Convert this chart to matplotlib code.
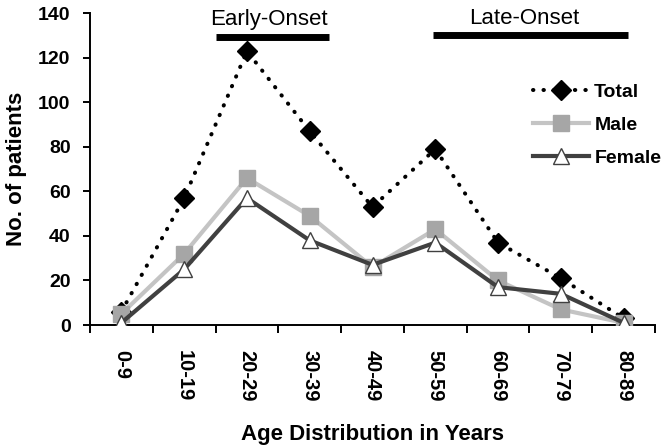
import matplotlib
matplotlib.use("Agg")
import matplotlib.pyplot as plt
import numpy as np

categories = ["0-9", "10-19", "20-29", "30-39", "40-49", "50-59", "60-69", "70-79", "80-89"]
total = [6, 57, 123, 87, 53, 79, 37, 21, 3]
male = [5, 32, 66, 49, 26, 43, 20, 7, 1]
female = [1, 25, 57, 38, 27, 37, 17, 14, 1]

plt.rcParams['font.family'] = ['Liberation Sans', 'DejaVu Sans']

W, H = 669, 447
fig = plt.figure(figsize=(W / 100, H / 100), dpi=100)
ax = fig.add_axes([90 / W, 1 - 325 / H, (655 - 90) / W, (325 - 13.3) / H])

x = np.arange(len(categories))
ax.plot(x, total, color='black', linestyle=(0, (0.1, 2.5)), dash_capstyle='round', lw=2.9,
        marker='D', markersize=10, markerfacecolor='black', markeredgecolor='black',
        label='Total', zorder=3)
ax.plot(x, male, color='#c4c4c4', lw=3, marker='s', markersize=11,
        markerfacecolor='#a6a6a6', markeredgecolor='#a6a6a6', label='Male', zorder=4)
ax.plot(x, female, color='#404040', lw=3, marker='^', markersize=12,
        markerfacecolor='white', markeredgecolor='#404040', markeredgewidth=1.0,
        label='Female', zorder=5)

ax.set_xlim(-0.5, len(categories) - 0.5)
ax.set_ylim(0, 140)
ax.set_yticks(range(0, 141, 20))
ax.set_xticks(x)
ax.set_xticklabels(categories, rotation=270, fontsize=14.5, fontweight='bold')
ax.set_xticks(np.arange(-0.5, len(categories), 1), minor=True)
ax.tick_params(axis='x', which='major', length=0, pad=18)
ax.tick_params(axis='x', which='minor', length=6, width=1.4, direction='out')
ax.tick_params(axis='y', length=5, width=1.4, direction='out', labelsize=14, pad=9)
for lab in ax.get_yticklabels():
    lab.set_fontweight('bold')

for s in ['top', 'right']:
    ax.spines[s].set_visible(False)
for s in ['left', 'bottom']:
    ax.spines[s].set_linewidth(1.4)

ax.set_ylabel('No. of patients', fontsize=16, fontweight='bold', labelpad=8)
ax.set_xlabel('Age Distribution in Years', fontsize=16, fontweight='bold', labelpad=16)

# Onset bars
ax.plot([1.5, 3.3], [129.4, 129.4], color='black', lw=5, solid_capstyle='butt', clip_on=False)
ax.text(2.35, 134.8, 'Early-Onset', ha='center', va='baseline', fontsize=16)
ax.plot([4.97, 8.07], [130.4, 130.4], color='black', lw=5, solid_capstyle='butt', clip_on=False)
ax.text(6.41, 135.3, 'Late-Onset', ha='center', va='baseline', fontsize=16)

leg = ax.legend(loc='upper left', bbox_to_anchor=(533 / W, 1 - 83 / H), bbox_transform=fig.transFigure,
                frameon=False, prop={'weight': 'bold', 'size': 14}, handlelength=2.9,
                handletextpad=0.25, labelspacing=0.8, borderaxespad=0, borderpad=0)

fig.savefig('out.png', dpi=100)
